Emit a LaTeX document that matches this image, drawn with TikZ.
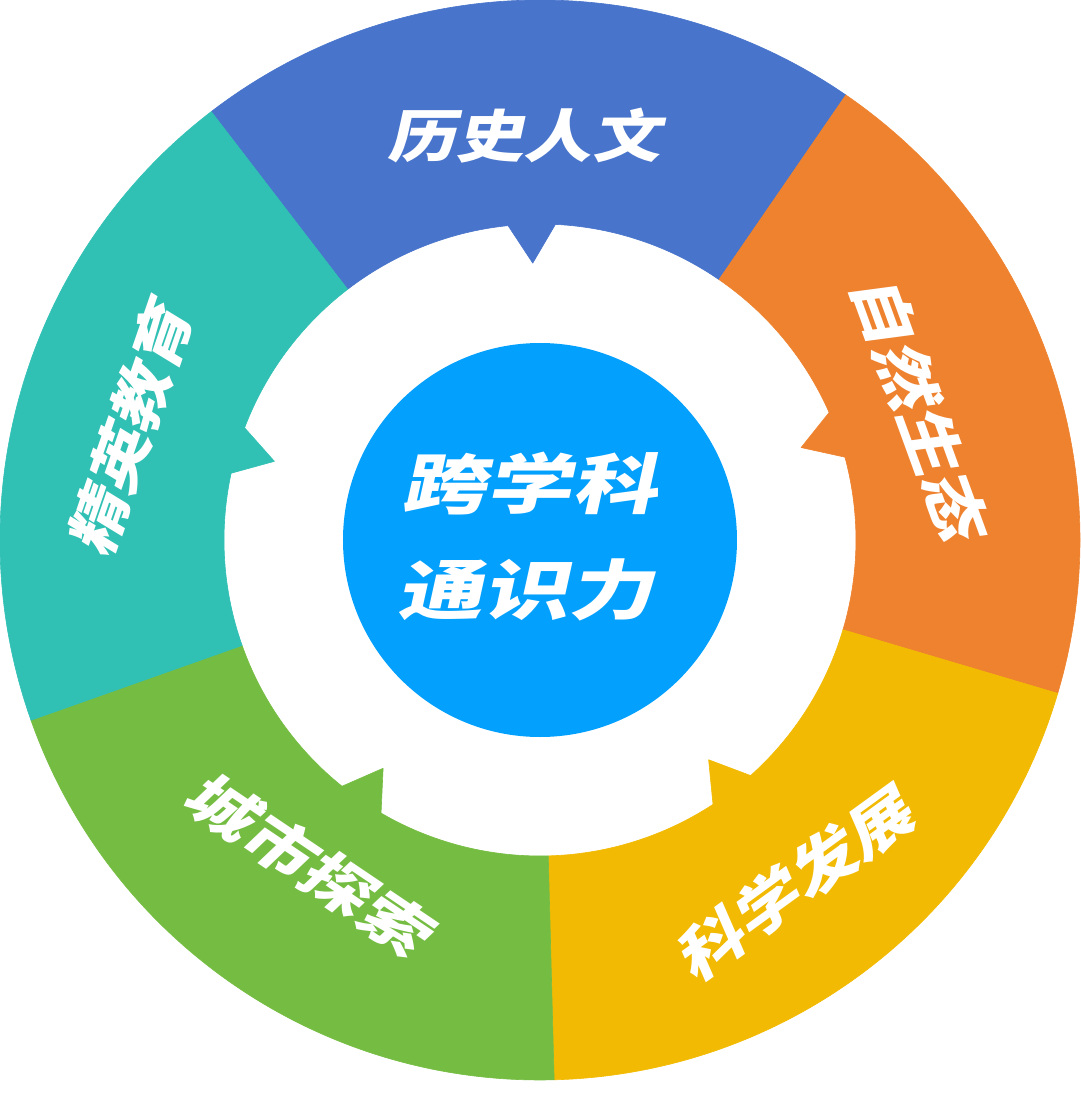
\documentclass[tikz,border=0pt]{standalone}
\usepackage{fontspec}
\newfontfamily\cjk{Noto Sans CJK SC Black}
\definecolor{cblue}{HTML}{4874CB}
\definecolor{corange}{HTML}{EE822F}
\definecolor{cyellow}{HTML}{F2BA02}
\definecolor{cgreen}{HTML}{75BD42}
\definecolor{cteal}{HTML}{30C0B4}
\definecolor{chub}{HTML}{04A0FE}
\begin{document}
\begin{tikzpicture}[x=1pt,y=1pt,
  seg/.style={fill=#1, draw=#1, line width=0.6pt, line join=round},
  lbl/.style={text=white, font=\cjk\fontsize{62}{62}\selectfont, inner sep=0pt, transform shape},
  ctr/.style={text=white, font=\cjk\fontsize{76}{76}\selectfont, inner sep=0pt, transform shape}]
\useasboundingbox (-540,-561) rectangle (540,540);
\foreach \c/\col in {91.5/cblue, 19.5/corange, -52.5/cyellow, -124.5/cgreen, -196.5/cteal} {
  \path[seg=\col] ({\c+36}:540) arc[start angle={\c+36}, end angle={\c-36}, radius=540]
    -- ({\c-36}:316) arc[start angle={\c-36}, end angle={\c-4.3}, radius=316]
    -- (\c:277) -- ({\c+4.3}:316)
    arc[start angle={\c+4.3}, end angle={\c+36}, radius=316] -- cycle;
}
\node[circle, fill=chub, minimum size=394pt, inner sep=0pt] (hub) at (0,0) {};
\begin{scope}[shift={(-5,56)}, xslant=0.22, xscale=1.12, yscale=0.86]
  \node[ctr] (t1) at (0,0) {跨学科};
\end{scope}
\begin{scope}[shift={(-9,-50)}, xslant=0.22, xscale=1.12, yscale=0.86]
  \node[ctr] (t2) at (0,0) {通识力};
\end{scope}
\begin{scope}[shift={(91.6:405)}, xslant=0.22, xscale=1.1, yscale=0.92]
  \node[lbl] (l1) at (0,0) {历史人文};
\end{scope}
\begin{scope}[shift={(18.8:402)}, rotate=-70, xslant=0.22, xscale=1.12, yscale=0.95]
  \node[lbl] (l2) at (0,0) {自然生态};
\end{scope}
\begin{scope}[shift={(-53:428)}, rotate=36, xslant=0.22, xscale=1.12, yscale=0.95]
  \node[lbl] (l3) at (0,0) {科学发展};
\end{scope}
\begin{scope}[shift={(-125:398)}, rotate=-34, xslant=0.22, xscale=1.12, yscale=0.95]
  \node[lbl] (l4) at (0,0) {城市探索};
\end{scope}
\begin{scope}[shift={(164.3:425)}, rotate=71, xslant=0.22, xscale=1.05, yscale=0.95]
  \node[lbl] (l5) at (0,0) {精英教育};
\end{scope}
\end{tikzpicture}
\end{document}
